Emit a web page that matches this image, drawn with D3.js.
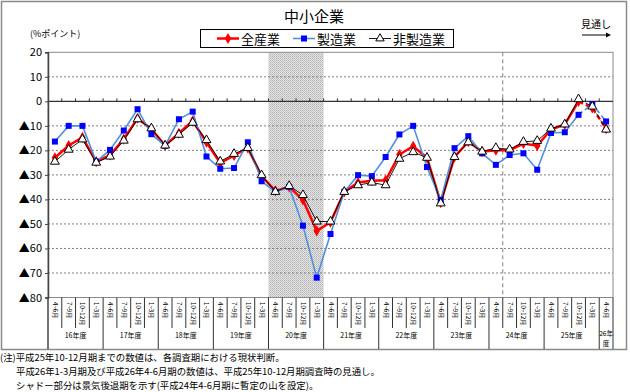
<!DOCTYPE html>
<html>
<head>
<meta charset="utf-8">
<script src="https://cdn.jsdelivr.net/npm/d3@7"></script>
<style>
  body { margin: 0; background: #fff; }
  svg { display: block; font-family: "Noto Sans CJK JP", "Noto Sans", sans-serif; }
</style>
</head>
<body>
<div id="chart"></div>
<script>
// quarter labels and fiscal years (H16..H26)
let quarters = ["4~6月", "7~9月", "10~12月", "1~3月"];
let years = ["16年度", "17年度", "18年度", "19年度", "20年度", "21年度", "22年度", "23年度", "24年度", "25年度", "26年度"];

// DI values
let allIndustry = [-23, -18, -14.7, -24.6, -21.9, -15.4, -6.9, -11.3, -18, -13, -8,
  -16.7, -25.2, -22.1, -19, -30.5, -36.5, -34.9, -40.2, -52.8, -49.3,
  -36.9, -33.1, -32.4, -32.2, -21.7, -18.3, -23, -41.3, -22.7, -16.4,
  -20.5, -19.9, -19.9, -17.2, -18.1, -11.5, -9.4, 0, -2.7, -11.1];
let manufacturing = [-16.4, -10, -10, -24.6, -19.8, -11.9, -3.2, -13.4, -18.1, -7.3, -4.2,
  -22.5, -27.5, -27.2, -16.7, -32.6, -36.9, -34.9, -50.7, -71.9, -54.1,
  -36.9, -30.1, -30.5, -22.7, -13.5, -10, -26.8, -40.2, -19.1, -14.2,
  -21.2, -25.9, -21.9, -21.2, -27.9, -12.9, -12.6, -5.5, -1.1, -8.2];
let nonManufacturing = [-24.6, -19.7, -15.5, -25, -22.5, -16, -7.3, -11, -18, -13.6, -8.7,
  -15.8, -24.5, -21.4, -19, -30.1, -36.9, -34.5, -38.2, -49, -49,
  -36.9, -34.2, -33.1, -34.2, -23.4, -20.7, -23, -41.6, -22.7, -16.7,
  -20.5, -19, -19.6, -16.5, -16.1, -11.1, -9.4, 0.9, -2.1, -11.5];

let yTicks = [20, 10, 0, -10, -20, -30, -40, -50, -60, -70, -80];
let recession = [16, 19];     // shaded quarters (first, last index)
let peakIndex = 33;           // dashed line before this quarter
let forecastFrom = 38;        // segments after this index are forecasts

let notes = [
  "(注)平成25年10-12月期までの数値は、各調査期における現状判断。",
  "平成26年1-3月期及び平成26年4-6月期の数値は、平成25年10-12月期調査時の見通し。",
  "シャドー部分は景気後退期を示す(平成24年4-6月期に暫定の山を設定)。"
];

////////////////////////////////////////////////////////////////////////

let width = 630, height = 392;
let nCat = allIndustry.length;
let plotTop = 52.3, plotBottom = 297.5, plotLeft = 48, plotRight = 613;

let svg = d3.select("#chart").append("svg")
  .attr("width", width).attr("height", height);

let x = d3.scaleBand().domain(d3.range(nCat)).range([plotLeft, plotRight]);
let y = d3.scaleLinear().domain([-80, 20]).range([plotBottom, plotTop]);
let cx = i => x(i) + x.bandwidth() / 2;

// dither pattern for the shaded period
let pat = svg.append("defs").append("pattern")
  .attr("id", "dither").attr("width", 2).attr("height", 2)
  .attr("patternUnits", "userSpaceOnUse");
pat.append("rect").attr("width", 2).attr("height", 2).attr("fill", "#e4e4e4");
pat.append("rect").attr("width", 1).attr("height", 1).attr("fill", "#b4b4b4");
pat.append("rect").attr("x", 1).attr("y", 1).attr("width", 1).attr("height", 1).attr("fill", "#c4c4c4");

// outer frame
svg.append("rect")
  .attr("x", 1.5).attr("y", 1.5).attr("width", 625).attr("height", 348)
  .attr("fill", "none").attr("stroke", "#8a8a8a").attr("stroke-width", 1.5);

// title
svg.append("text")
  .attr("x", 314).attr("y", 22).attr("text-anchor", "middle")
  .attr("font-size", 15).text("中小企業");

svg.append("text")
  .attr("x", 30).attr("y", 37).attr("font-size", 9).text("(%ポイント)");

// forecast marker
svg.append("text")
  .attr("x", 596).attr("y", 28).attr("text-anchor", "middle")
  .attr("font-size", 10).text("見通し");
svg.append("line")
  .attr("x1", 582).attr("x2", 606).attr("y1", 35).attr("y2", 35)
  .attr("stroke", "#000").attr("stroke-width", 1);
svg.append("path")
  .attr("d", "M606,32.5 L611,35 L606,37.5 Z").attr("fill", "#000");

// recession shading
svg.append("rect")
  .attr("x", x(recession[0])).attr("y", plotTop)
  .attr("width", x(recession[1]) + x.bandwidth() - x(recession[0]))
  .attr("height", plotBottom - plotTop)
  .attr("fill", "url(#dither)");

// gridlines
svg.append("g").selectAll("line")
  .data(yTicks.filter(v => v !== 0 && v !== -80 && v !== 20))
  .enter().append("line")
  .attr("x1", plotLeft).attr("x2", plotRight)
  .attr("y1", d => y(d)).attr("y2", d => y(d))
  .attr("stroke", "#808080").attr("stroke-width", 1)
  .attr("stroke-dasharray", "2,2");

// plot border
svg.append("rect")
  .attr("x", plotLeft).attr("y", plotTop)
  .attr("width", plotRight - plotLeft).attr("height", plotBottom - plotTop)
  .attr("fill", "none").attr("stroke", "#8a8a8a").attr("stroke-width", 1);

// peak line
svg.append("line")
  .attr("x1", x(peakIndex)).attr("x2", x(peakIndex))
  .attr("y1", plotTop).attr("y2", plotBottom)
  .attr("stroke", "#808080").attr("stroke-dasharray", "4,3");

// zero line with small ticks
svg.append("line")
  .attr("x1", plotLeft).attr("x2", plotRight)
  .attr("y1", y(0)).attr("y2", y(0))
  .attr("stroke", "#333").attr("stroke-width", 1.2);
svg.append("g").selectAll("line")
  .data(d3.range(1, nCat))
  .enter().append("line")
  .attr("x1", d => x(d)).attr("x2", d => x(d))
  .attr("y1", y(0)).attr("y2", y(0) - 3)
  .attr("stroke", "#333");

// y axis
let yAxis = svg.append("g")
  .attr("transform", `translate(${plotLeft},0)`)
  .call(d3.axisLeft(y).tickValues(yTicks).tickSize(3)
    .tickFormat(v => v < 0 ? "▲" + (-v) : v));
yAxis.select(".domain").attr("stroke", "#444").attr("stroke-width", 1.5);
yAxis.selectAll("text").attr("font-size", 11).attr("fill", "#000")
  .attr("font-family", "'Noto Sans CJK JP', sans-serif");
yAxis.selectAll(".tick line").attr("stroke", "#444");

// left axis line continues through the label area
svg.append("line")
  .attr("x1", plotLeft).attr("x2", plotLeft)
  .attr("y1", plotBottom).attr("y2", 349)
  .attr("stroke", "#444").attr("stroke-width", 1.5);

// category separators and labels
let catG = svg.append("g");
catG.selectAll("line")
  .data(d3.range(1, nCat + 1))
  .enter().append("line")
  .attr("x1", d => d === nCat ? plotRight : x(d))
  .attr("x2", d => d === nCat ? plotRight : x(d))
  .attr("y1", plotBottom)
  .attr("y2", d => d % 4 === 0 || d === nCat ? 349 : 328)
  .attr("stroke", "#333").attr("stroke-width", 1);

catG.selectAll("text")
  .data(d3.range(nCat))
  .enter().append("text")
  .attr("transform", d => `translate(${cx(d) - 2},302) rotate(90)`)
  .attr("font-size", 6.2)
  .text(d => quarters[d % 4]);

svg.append("g").selectAll("text")
  .data(years.slice(0, years.length - 1))
  .enter().append("text")
  .attr("x", (d, i) => (x(i * 4) + x(i * 4 + 3) + x.bandwidth()) / 2)
  .attr("y", 338).attr("text-anchor", "middle")
  .attr("font-size", 7).text(d => d);

// last year label wrapped in two lines
svg.append("text")
  .attr("x", cx(nCat - 1)).attr("y", 336).attr("font-size", 6.5)
  .attr("text-anchor", "middle").text("26年");
svg.append("text")
  .attr("x", cx(nCat - 1)).attr("y", 346).attr("font-size", 6.5)
  .attr("text-anchor", "middle").text("度");

// series
let line = d3.line().x(d => cx(d.i)).y(d => y(d.v));

function drawSeries(values, color, lw, markerFn) {
  let pts = values.map((v, i) => ({ i: i, v: v }));
  let g = svg.append("g");
  g.append("path")
    .attr("d", line(pts.slice(0, forecastFrom + 1)))
    .attr("fill", "none").attr("stroke", color).attr("stroke-width", lw);
  g.append("path")
    .attr("d", line(pts.slice(forecastFrom)))
    .attr("fill", "none").attr("stroke", color).attr("stroke-width", lw)
    .attr("stroke-dasharray", "5,3");
  g.selectAll(".m").data(pts).enter().call(markerFn);
}

let diamond = sel => sel.append("path")
  .attr("d", d3.symbol(d3.symbolDiamond, 36))
  .attr("transform", d => `translate(${cx(d.i)},${y(d.v)})`)
  .attr("fill", "#ff0000");
let square = sel => sel.append("rect")
  .attr("x", d => cx(d.i) - 3).attr("y", d => y(d.v) - 3)
  .attr("width", 6).attr("height", 6).attr("fill", "#0000ff");
let triangle = sel => sel.append("path")
  .attr("d", d3.symbol(d3.symbolTriangle, 34))
  .attr("transform", d => `translate(${cx(d.i)},${y(d.v)})`)
  .attr("fill", "#fff").attr("stroke", "#000").attr("stroke-width", 1);

drawSeries(allIndustry, "#ff0000", 2.5, diamond);
drawSeries(manufacturing, "#4f8fdc", 1.6, square);
drawSeries(nonManufacturing, "#000", 0.9, triangle);

// legend
let legend = svg.append("g");
legend.append("rect")
  .attr("x", 200.5).attr("y", 29.5).attr("width", 253).attr("height", 18)
  .attr("fill", "#fff").attr("stroke", "#000");
let legendItems = [
  { name: "全産業", color: "#ff0000", lw: 2.5, x: 217, marker: diamond },
  { name: "製造業", color: "#4f8fdc", lw: 1.6, x: 293, marker: square },
  { name: "非製造業", color: "#000", lw: 0.9, x: 369, marker: triangle }
];
legendItems.forEach(it => {
  legend.append("line")
    .attr("x1", it.x).attr("x2", it.x + 22).attr("y1", 38.5).attr("y2", 38.5)
    .attr("stroke", it.color).attr("stroke-width", it.lw);
  let c = it.x + 11;
  if (it.marker === square) {
    legend.append("rect").attr("x", c - 3).attr("y", 35.5).attr("width", 6).attr("height", 6).attr("fill", "#0000ff");
  } else if (it.marker === diamond) {
    legend.append("path").attr("d", d3.symbol(d3.symbolDiamond, 36))
      .attr("transform", `translate(${c},38.5)`).attr("fill", "#ff0000");
  } else {
    legend.append("path").attr("d", d3.symbol(d3.symbolTriangle, 30))
      .attr("transform", `translate(${c},38.5)`)
      .attr("fill", "#fff").attr("stroke", "#000");
  }
  legend.append("text")
    .attr("x", it.x + 24).attr("y", 43.5).attr("font-size", 13)
    .text(it.name);
});

// notes
svg.append("g").selectAll("text")
  .data(notes).enter().append("text")
  .attr("x", (d, i) => i === 0 ? 0 : 16)
  .attr("y", (d, i) => 361 + i * 14)
  .attr("font-size", 9.4)
  .text(d => d);
</script>
</body>
</html>
